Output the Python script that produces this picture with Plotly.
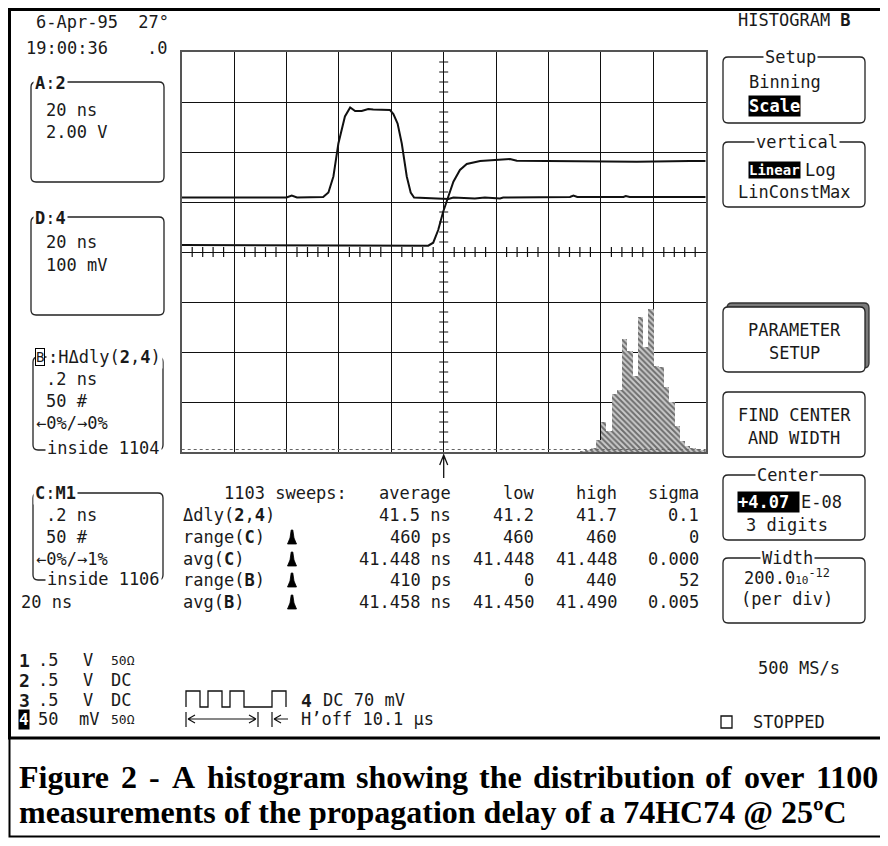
import plotly.graph_objects as go

# ---------------- data ----------------
# Histogram of delta-delay(2,4), 20 ps bins (ns) and counts
hist_bin_ns = [41.23, 41.25, 41.27, 41.29, 41.31, 41.33, 41.35, 41.37, 41.39, 41.41, 41.43, 41.45,
               41.47, 41.49, 41.51, 41.53, 41.55, 41.57, 41.59, 41.61, 41.63, 41.65, 41.67, 41.69]
hist_counts = [1, 2, 4, 12, 30, 21, 58, 62, 113, 101, 76, 135,
               105, 143, 86, 85, 65, 50, 26, 11, 6, 4, 3, 2]

# Trace A (channel 2) : time (ns) vs screen divisions
ch2_time_ns = [-100, -60, -58, -56, -46, -44, -42.1, -40.2, -37.7, -35.7, -33.8, -31.3, -28.8, -26.9,
               -20.5, -19.2, -17.6, -16.0, -14.1, -12.6, -11.3, -2.7, 1.8, 3.7, 11.9, 15.7, 21.5, 22.7,
               48.2, 49.5, 51.0, 68.6, 69.5, 71.0, 100]
ch2_div = [1.09, 1.09, 1.13, 1.09, 1.10, 1.19, 1.51, 2.17, 2.71, 2.89, 2.82, 2.82, 2.86, 2.85,
           2.84, 2.76, 2.57, 2.17, 1.51, 1.19, 1.09, 1.08, 1.06, 1.09, 1.07, 1.09, 1.07, 1.09,
           1.10, 1.13, 1.10, 1.10, 1.12, 1.10, 1.10]

# Trace D (channel 4)
ch4_time_ns = [-100, -83.5, -80.3, -9.7, -5.9, -4.0, -2.1, -0.2, 1.8, 3.7, 6.2, 8.8, 13.9, 21.5,
               25.3, 27.9, 48.2, 55.8, 73.7, 94, 100]
ch4_div = [0.14, 0.14, 0.126, 0.126, 0.126, 0.186, 0.44, 0.806, 1.106, 1.406, 1.64, 1.76, 1.82, 1.846,
           1.86, 1.826, 1.814, 1.806, 1.806, 1.82, 1.82]

# Parameter table
table_columns = ["average", "low", "high", "sigma"]
table_labels = ["\u0394dly(<b>2</b>,<b>4</b>)", "range(<b>C</b>)", "avg(<b>C</b>)", "range(<b>B</b>)", "avg(<b>B</b>)"]
table_average = ["41.5 ns", "460 ps", "41.448 ns", "410 ps", "41.458 ns"]
table_low = ["41.2", "460", "41.448", "0", "41.450"]
table_high = ["41.7", "460", "41.448", "440", "41.490"]
table_sigma = ["0.1", "0", "0.000", "52", "0.005"]
table_icon = [False, True, True, True, True]

channel_ids = ["1", "2", "3", "4"]
channel_scale = [".5", ".5", ".5", "50"]
channel_unit = ["V", "V", "V", "mV"]
channel_coupling = ["50\u03a9", "DC", "DC", "50\u03a9"]

caption_line1_words = ["Figure", "2", "-", "A", "histogram", "showing", "the", "distribution", "of", "over", "1100"]
caption_line2 = "measurements of the propagation delay of a 74HC74 @ 25\u00baC"

# ---------------- geometry ----------------
# The page has an 8 px body margin; the figure is sized so the page never scrolls,
# and its pixel axis is expressed in window coordinates.
OFF = 8
W, H = 880, 830
GX0, GX1, GY0, GY1 = 181.7, 705.7, 52.0, 452.0
DIVX = (GX1 - GX0) / 10.0
CX = GX0 + 5 * DIVX
CY = GY0 + 4 * 50.0

MONO = "DejaVu Sans Mono"
FS = 17
SERIF = "Liberation Serif"
INK = "#1a1a1a"

shapes = []
annotations = []


def T(x, y, s, anchor="left", size=FS, color=INK, bg=None, font=MONO, border=None, pad=0):
    a = dict(x=x, y=y, xref="x", yref="y", text=s, showarrow=False, xanchor=anchor,
             yanchor="middle", font=dict(family=font, size=size, color=color), borderpad=pad)
    if bg:
        a["bgcolor"] = bg
    if border:
        a["bordercolor"] = border
        a["borderwidth"] = 1
    annotations.append(a)


def path(p, width=1.3, color="#222", fill=None):
    d = dict(type="path", path=p, xref="x", yref="y", line=dict(color=color, width=width), layer="above")
    d["fillcolor"] = fill if fill else "rgba(0,0,0,0)"
    shapes.append(d)


def rrect(x0, y0, x1, y1, r=5, width=1.3, fill=None, color="#222"):
    p = (f"M {x0+r},{y0} L {x1-r},{y0} Q {x1},{y0} {x1},{y0+r} L {x1},{y1-r} Q {x1},{y1} {x1-r},{y1} "
         f"L {x0+r},{y1} Q {x0},{y1} {x0},{y1-r} L {x0},{y0+r} Q {x0},{y0} {x0+r},{y0} Z")
    path(p, width, color, fill)


# ---------------- frame ----------------
path("M 9.5,9.5 L 883,9.5 L 883,738 L 9.5,738 Z", width=3, color="black")
path("M 9.5,738 L 9.5,836.5 L 883,836.5 L 883,738", width=2, color="black")

# ---------------- graticule ticks / markers ----------------
tp = ""
for k in range(1, 50):
    if k % 5:
        x = GX0 + k * DIVX / 5
        tp += f"M {x:.1f},{CY-5} L {x:.1f},{CY+5} "
for k in range(1, 40):
    if k % 5:
        y = GY0 + k * 10
        tp += f"M {CX-4.5:.1f},{y} L {CX+4.5:.1f},{y} "
path(tp, width=1.2, color="#111")
# histogram baseline (dotted)
shapes.append(dict(type="line", xref="x", yref="y", x0=GX0, x1=GX1, y0=GY1 - 2.5, y1=GY1 - 2.5,
                   line=dict(color="#666", width=1, dash="dot"), layer="above"))
# trigger arrow under grid
path(f"M {CX},{478} L {CX},{455} M {CX-4},{465} L {CX},{455} L {CX+4},{465}", width=1.3, color="#111")

# ---------------- top-left text ----------------
T(35, 22, "6-Apr-95  27\u00b0")
T(25, 48, "19:00:36")
T(168, 48, ".0", anchor="right")

# Box A
rrect(31, 82, 164, 182)
T(33, 83, "<b>A</b>:<b>2</b>", bg="white", pad=1)
T(45, 110, "20 ns")
T(45, 132, "2.00 V")

# Box D
rrect(31, 217, 164, 315)
T(33, 218, "<b>D</b>:<b>4</b>", bg="white", pad=1)
T(45, 242, "20 ns")
T(45, 265, "100 mV")

# Box B
rrect(33, 357, 163, 450)
T(35, 357, "B", size=14, bg="white", border="black", pad=0)
T(46, 357, ":H\u0394dly(<b>2</b>,<b>4</b>)", bg="white", pad=1)
T(45, 379, ".2 ns")
T(45, 401, "50 #")
T(35, 423, "\u21900%/\u21920%", bg="white")
T(45, 448, "inside 1104", bg="white", pad=1)

# Box C
rrect(33, 493, 163, 580)
T(33, 493, "<b>C</b>:<b>M1</b>", bg="white", pad=1)
T(45, 515, ".2 ns")
T(45, 537, "50 #")
T(35, 559, "\u21900%/\u21921%", bg="white")
T(45, 579, "inside 1106", bg="white", pad=1)
T(20, 602, "20 ns")

# ---------------- parameter table ----------------
rows_y = [515, 537, 559, 580, 602]
col_right = [451.7, 535, 618.3, 700]
T(223, 493, "1103 sweeps:")
for j, h in enumerate(table_columns):
    T(col_right[j], 493, h, anchor="right")
icon = ""
for i, y in enumerate(rows_y):
    T(182, y, table_labels[i])
    if table_icon[i]:
        ix = 292
        icon += (f"M {ix-4.5},{y+7} L {ix-2},{y+1} L {ix-0.8},{y-7} L {ix+0.8},{y-7} "
                 f"L {ix+2},{y+1} L {ix+4.5},{y+7} Z ")
    T(col_right[0], y, table_average[i], anchor="right")
    T(col_right[1], y, table_low[i], anchor="right")
    T(col_right[2], y, table_high[i], anchor="right")
    T(col_right[3], y, table_sigma[i], anchor="right")
path(icon, width=0.8, color="black", fill="black")

# ---------------- channel list ----------------
ch_y = [660, 680, 700, 719]
for i, y in enumerate(ch_y):
    if i == 3:
        T(18, y, "<b>" + channel_ids[i] + "</b>", color="white", bg="black", size=16)
    else:
        T(18, y, "<b>" + channel_ids[i] + "</b>", size=18)
    T(37, y, channel_scale[i])
    T(78 if channel_unit[i] == "mV" else 82, y, channel_unit[i])
    T(110, y, channel_coupling[i], size=13 if "\u03a9" in channel_coupling[i] else FS)

# pulse train icon
pl = "M 186,707 L 186,691 L 200,691 L 200,707 L 208,707 L 208,691 L 222,691 L 222,707 L 230,707 " \
     "L 230,691 L 244,691 L 244,707 L 272,707 L 272,691 L 286,691 L 286,707"
path(pl, width=1.3, color="#111")
T(300, 700, "<b>4</b>", size=18)
T(322, 700, "DC 70 mV")
# holdoff arrows
ar = ("M 186,712 L 186,727 M 188,719 L 256,719 M 188,719 L 195,715 M 188,719 L 195,723 "
      "M 256,719 L 249,715 M 256,719 L 249,723 M 258,712 L 258,727 "
      "M 272,712 L 272,727 M 274,719 L 288,719 M 274,719 L 281,715 M 274,719 L 281,723")
path(ar, width=1.2, color="#111")
T(300, 719, "H\u2019off 10.1 \u03bcs")

# ---------------- right panel ----------------
T(737, 20, "HISTOGRAM <b>B</b>")
rrect(723, 57, 865, 123)
T(790, 57, "Setup", anchor="center", bg="white", pad=1)
T(748, 82, "Binning")
T(748, 106, "<b>Scale</b>", color="white", bg="black")
rrect(723, 142, 865, 207)
T(797, 142, "vertical", anchor="center", bg="white", pad=1)
T(748, 170, "<b>Linear</b>", color="white", bg="black", size=14)
T(804, 170, "Log")
T(737, 192, "LinConstMax")

rrect(727, 303, 869, 368, fill="#7a7a7a", color="#333")
rrect(723, 307, 865, 372, fill="white")
T(794, 330, "PARAMETER", anchor="center")
T(794, 353, "SETUP", anchor="center")
rrect(723, 392, 865, 457)
T(794, 415, "FIND CENTER", anchor="center")
T(794, 438, "AND WIDTH", anchor="center")

rrect(723, 475, 865, 540)
T(787, 475, "Center", anchor="center", bg="white", pad=1)
T(737, 502, "<b>+4.07 </b>", color="white", bg="black")
T(800, 502, "E-08")
T(787, 525, "3 digits", anchor="center")
rrect(723, 558, 865, 623)
T(787, 558, "Width", anchor="center", bg="white", pad=1)
T(787, 577, "200.0<span style='font-size:11px'>10</span><sup>-12</sup>", anchor="center")
T(787, 599, "(per div)", anchor="center")
T(757, 668, "500 MS/s")
shapes.append(dict(type="rect", xref="x", yref="y", x0=721, x1=732, y0=716, y1=728,
                   line=dict(color="#111", width=1.3), layer="above"))
T(752, 722, "STOPPED")

# ---------------- caption (line 1 justified word by word) ----------------
cap1_x = [18, 119.8, 147.8, 170.6, 205.6, 354.9, 477.8, 532.2, 703.9, 742.9, 814.8]
for wx, wd in zip(cap1_x, caption_line1_words):
    T(wx, 777, "<b>" + wd + "</b>", font=SERIF, size=32, color="black")
T(18, 812, "<b>" + caption_line2 + "</b>", font=SERIF, size=32, color="black")

# ---------------- traces ----------------
fig = go.Figure()
fig.add_trace(go.Bar(
    x=hist_bin_ns, y=hist_counts, width=0.02, xaxis="x2", yaxis="y2",
    marker=dict(color="#c4c4c4", line=dict(width=0),
                pattern=dict(shape="\\", fgcolor="#111", bgcolor="#cacaca",
                             size=4, solidity=0.5)),
    hoverinfo="skip"))
fig.add_trace(go.Scatter(x=ch2_time_ns, y=ch2_div, mode="lines", xaxis="x3", yaxis="y3",
                         line=dict(color="#111", width=2), hoverinfo="skip"))
fig.add_trace(go.Scatter(x=ch4_time_ns, y=ch4_div, mode="lines", xaxis="x3", yaxis="y3",
                         line=dict(color="#111", width=2), hoverinfo="skip"))

XMAX = OFF + W
YMAX = OFF + H
xd = [(GX0 - OFF) / W, (GX1 - OFF) / W]
yd = [(YMAX - GY1) / H, (YMAX - GY0) / H]
fig.update_layout(
    width=W, height=H, margin=dict(l=0, r=0, t=0, b=0),
    paper_bgcolor="white", plot_bgcolor="white", showlegend=False, bargap=0,
    xaxis=dict(domain=[0, 1], range=[OFF, XMAX], visible=False, fixedrange=True),
    yaxis=dict(domain=[0, 1], range=[YMAX, OFF], visible=False, fixedrange=True),
    xaxis2=dict(domain=xd, range=[39.7, 41.7], anchor="y2", tick0=39.7, dtick=0.2,
                showgrid=True, gridcolor="#111", gridwidth=1.2, zeroline=False,
                showticklabels=False, ticks="", showline=True, mirror=True,
                linecolor="#555", linewidth=2),
    yaxis2=dict(domain=yd, range=[0, 400], anchor="x2", tick0=0, dtick=50,
                showgrid=True, gridcolor="#111", gridwidth=1.2, zeroline=False,
                showticklabels=False, ticks="", showline=True, mirror=True,
                linecolor="#555", linewidth=2),
    xaxis3=dict(overlaying="x2", range=[-100, 100], anchor="y3", visible=False),
    yaxis3=dict(overlaying="y2", range=[-4, 4], anchor="x3", visible=False),
    shapes=shapes, annotations=annotations,
)

fig.write_html("out.html")
